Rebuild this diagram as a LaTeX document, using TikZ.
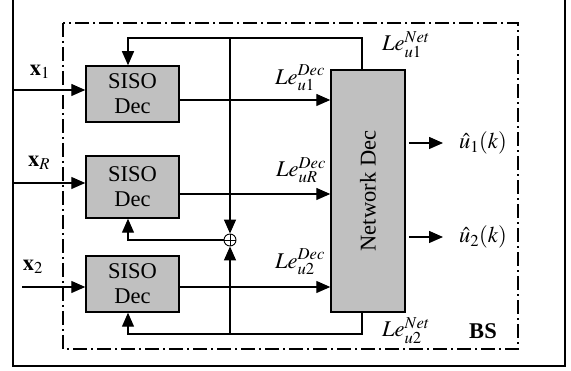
\documentclass[tikz,border=0pt]{standalone}
\usepackage{mathptmx}
\usepackage{fontspec}
\setmainfont{Liberation Serif}
\usetikzlibrary{arrows.meta}
\definecolor{boxgray}{RGB}{192,192,192}
\tikzset{
  blk/.style={draw, line width=1.5pt, fill=boxgray, align=center, inner sep=0pt},
  con/.style={line width=1.4pt},
  arr/.style={con, -{Triangle[length=14pt,width=12pt]}},
  lbl/.style={inner sep=0pt}
}
\begin{document}
\begin{tikzpicture}[x=1pt,y=-1pt,font=\fontsize{22.5}{25}\selectfont]
\useasboundingbox (0,0) rectangle (571,371);
% outer frame
\draw[line width=2.2pt] (13,-5) rectangle (565,366);
% BS dash-dot box
\draw[line width=1.4pt, dash pattern=on 14pt off 4pt on 2pt off 4pt] (63,23) rectangle (518,349);
% blocks
\node[blk, minimum width=93pt, minimum height=56pt] (s1) at (132.5,94) {SISO\\Dec};
\node[blk, minimum width=93pt, minimum height=62pt] (sR) at (132.5,187) {SISO\\Dec};
\node[blk, minimum width=93pt, minimum height=56pt] (s2) at (132.5,284) {SISO\\Dec};
\node[blk, minimum width=74pt, minimum height=242pt] (net) at (368,191) {};
\node[lbl, rotate=90] (nett) at (net.center) {Network Dec};
\node[draw, circle, minimum size=12pt, inner sep=0pt, line width=0.9pt] (sum) at (230,240) {};
\draw[line width=0.9pt] (sum.north) -- (sum.south) (sum.west) -- (sum.east);
% inputs
\coordinate (i1) at (13,90);
\coordinate (iR) at (13,183);
\coordinate (i2) at (22,287);
\draw[arr] (i1) -- (i1 -| s1.west);
\draw[arr] (iR) -- (iR -| sR.west);
\draw[arr] (i2) -- (i2 -| s2.west);
% SISO outputs to network decoder
\draw[arr] (s1.east |- 0,100) -- (net.west |- 0,100);
\draw[arr] (sR.east |- 0,194) -- (net.west |- 0,194);
\draw[arr] (s2.east |- 0,287) -- (net.west |- 0,287);
% network outputs
\coordinate (o1) at (443,143);
\coordinate (o2) at (443,237);
\draw[arr] ([xshift=3pt]o1 -| net.east) -- (o1);
\draw[arr] ([xshift=3pt]o2 -| net.east) -- (o2);
% feedback top
\coordinate (tr) at (362,38);
\coordinate (tl) at (128,38);
\coordinate (jt) at (230,38);
\draw[arr] (tr |- net.north) -- (tr) -- (tl) -- (tl |- s1.north);
\draw[arr] (jt) -- (sum.north);
\draw[arr] (sum.west) -- (sum.west -| tl) -- (tl |- sR.south);
% feedback bottom
\coordinate (br) at (362,334);
\coordinate (jb) at (230,334);
\draw[arr] (br |- net.south) -- (br) -- (br -| tl) -- (tl |- s2.south);
\draw[arr] (jb) -- (sum.south);
% labels
\node[lbl] (lx1) at (40,72) {$\mathbf{x}_1$};
\node[lbl] (lxR) at (39,163) {$\mathbf{x}_R$};
\node[lbl] (lx2) at (33,267) {$\mathbf{x}_2$};
\node[lbl] (ld1) at (300,78) {$Le_{u1}^{Dec}$};
\node[lbl] (ldR) at (301,170) {$Le_{uR}^{Dec}$};
\node[lbl] (ld2) at (300,262) {$Le_{u2}^{Dec}$};
\node[lbl] (ln1) at (406,45) {$Le_{u1}^{Net}$};
\node[lbl] (ln2) at (406,331) {$Le_{u2}^{Net}$};
\node[lbl] (lbs) at (483,331) {\textbf{BS}};
\node[lbl] (lu1) at (483,143) {$\hat{u}_1(k)$};
\node[lbl] (lu2) at (483,237) {$\hat{u}_2(k)$};
\end{tikzpicture}
\end{document}
